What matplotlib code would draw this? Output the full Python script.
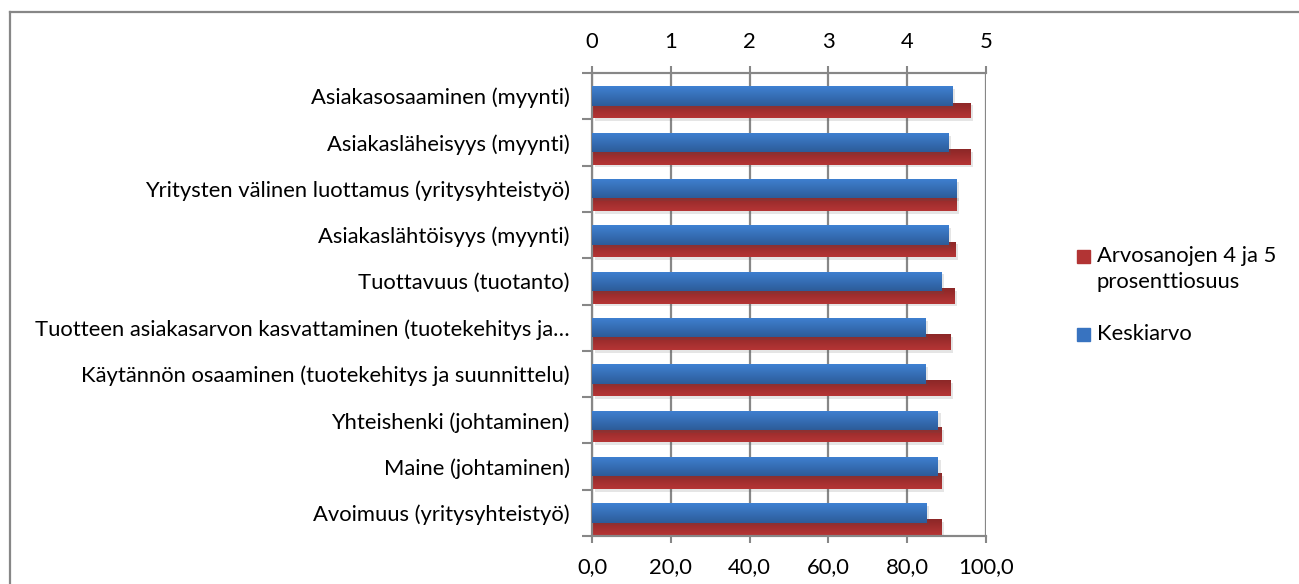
import numpy as np
import matplotlib.pyplot as plt
from matplotlib.ticker import FixedLocator, FuncFormatter
from matplotlib.lines import Line2D
from matplotlib.patches import Rectangle
import matplotlib.patheffects as pe

plt.rcParams['font.family'] = ['Lato', 'DejaVu Sans']

kategoriat = [
    "Asiakasosaaminen (myynti)",
    "Asiakasläheisyys (myynti)",
    "Yritysten välinen luottamus (yritysyhteistyö)",
    "Asiakaslähtöisyys (myynti)",
    "Tuottavuus (tuotanto)",
    "Tuotteen asiakasarvon kasvattaminen (tuotekehitys ja…",
    "Käytännön osaaminen (tuotekehitys ja suunnittelu)",
    "Yhteishenki (johtaminen)",
    "Maine (johtaminen)",
    "Avoimuus (yritysyhteistyö)",
]
# arvosanojen 4 ja 5 osuus (%), alempi akseli
osuus = [96.0, 96.0, 92.5, 92.2, 92.0, 90.9, 90.9, 88.7, 88.7, 88.7]
# keskiarvo (1-5), ylempi akseli
keskiarvo = [4.57, 4.52, 4.62, 4.52, 4.43, 4.23, 4.23, 4.39, 4.39, 4.24]
selitteet = ["Arvosanojen 4 ja 5\nprosenttiosuus", "Keskiarvo"]

harmaa = '#878787'
punainen = '#B23434'
sininen = '#3873C0'
fs = 15.8


def liukuvari(ax, palkit, vari_ylä, vari_ala):
    # pystysuuntainen liukuväri jokaiseen palkkiin
    c1 = np.array(plt.matplotlib.colors.to_rgb(vari_ylä))
    c2 = np.array(plt.matplotlib.colors.to_rgb(vari_ala))
    t = np.linspace(0, 1, 32)[:, None]
    kuva = (c1 * (1 - t) + c2 * t)[:, None, :]
    for p in palkit:
        x0, y0 = p.get_x(), p.get_y()
        w, h = p.get_width(), p.get_height()
        im = ax.imshow(kuva, extent=[x0, x0 + w, y0 + h, y0], aspect='auto',
                       origin='upper', zorder=p.get_zorder() + 0.1, interpolation='bilinear')
        im.set_clip_path(p)


fig = plt.figure(figsize=(12.99, 5.84), dpi=100)
ax = fig.add_axes([592 / 1299, 1 - 536 / 584, 394 / 1299, 463 / 584])
ax2 = ax.twiny()

y = np.arange(len(kategoriat))
varjo = [pe.SimplePatchShadow(offset=(2, -2), alpha=0.15, shadow_rgbFace='#555555'), pe.Normal()]

punaiset = ax.barh(y + 0.31, osuus, height=0.34, color=punainen, zorder=2, path_effects=varjo)
siniset = ax2.barh(y, keskiarvo, height=0.42, color=sininen, zorder=3, path_effects=varjo)
liukuvari(ax, punaiset, '#8C2727', '#B53535')
liukuvari(ax2, siniset, '#3F81D2', '#2D5C99')

ax.set_xlim(0, 100)
ax2.set_xlim(0, 5)
ax.set_ylim(len(kategoriat) - 0.5, -0.5)

ax.set_xticks(np.arange(0, 101, 20))
ax.xaxis.set_major_formatter(FuncFormatter(lambda v, p: f"{v:.1f}".replace('.', ',')))
ax2.set_xticks(np.arange(0, 6, 1))

ax.set_yticks(y)
ax.set_yticklabels(kategoriat)
ax.yaxis.set_minor_locator(FixedLocator(np.arange(-0.5, len(kategoriat), 1)))
ax.tick_params(axis='y', which='major', length=0, pad=16, labelsize=fs)
ax.tick_params(axis='y', which='minor', length=7, width=1.5, color=harmaa, direction='out')
ax.tick_params(axis='x', length=5, width=1.5, color=harmaa, pad=10, labelsize=fs)
ax2.tick_params(axis='x', length=5, width=1.5, color=harmaa, pad=10, labelsize=fs)

ax.grid(axis='x', color=harmaa, linewidth=1.6)
ax.set_axisbelow(True)

for a in (ax, ax2):
    for s in a.spines.values():
        s.set_color(harmaa)
        s.set_linewidth(1.5)
    a.spines['right'].set_visible(False)

# selite käsin, jotta neliö osuu ensimmäiselle riville
for vari, teksti, ylä in [(punainen, selitteet[0], 250), (sininen, selitteet[1], 328)]:
    fig.add_artist(Rectangle((1077 / 1299, 1 - (ylä + 13) / 584), 13 / 1299, 13 / 584,
                             transform=fig.transFigure, color=vari))
    fig.text(1097 / 1299, 1 - (ylä - 4) / 584, teksti, fontsize=fs, va='top', ha='left',
             linespacing=1.4)

# kehys kuvan ympärillä
fig.add_artist(Line2D([9.5 / 1299, 9.5 / 1299], [0, 1 - 11.5 / 584], color=harmaa, lw=1.6))
fig.add_artist(Line2D([9.5 / 1299, 1], [1 - 11.5 / 584, 1 - 11.5 / 584], color=harmaa, lw=1.6))

fig.savefig('out.png', dpi=100)
